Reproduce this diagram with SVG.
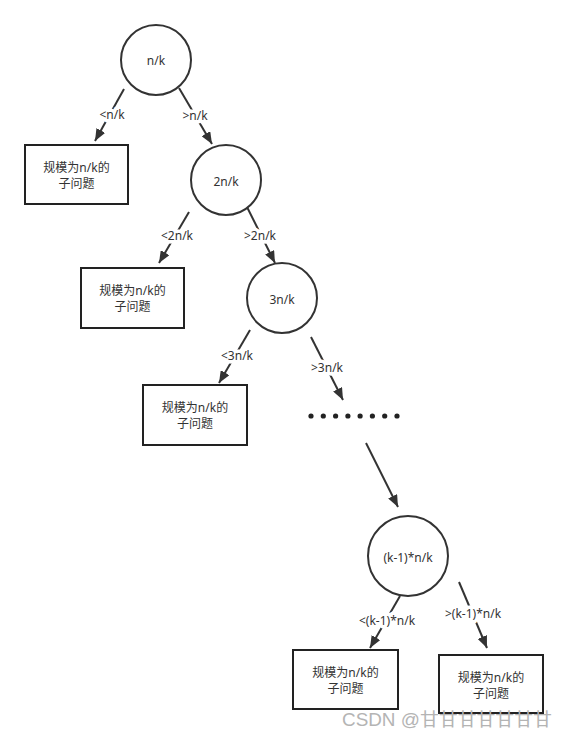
<svg xmlns="http://www.w3.org/2000/svg" width="568" height="739" viewBox="0 0 568 739">
<defs>
<marker id="ah" markerUnits="userSpaceOnUse" viewBox="0 0 12 10" refX="12" refY="5" markerWidth="12" markerHeight="10" orient="auto">
<path d="M0,0 L12,5 L0,10 z" fill="#333"/>
</marker>
<style>
.c{fill:#fff;stroke:#333;stroke-width:2}
.b{fill:#fff;stroke:#222;stroke-width:2}
.t{font-family:"Noto Sans","Noto Sans CJK SC",sans-serif;font-size:12px;fill:#333;text-anchor:middle;dominant-baseline:central}
.e{stroke:#333;stroke-width:2;fill:none;marker-end:url(#ah)}
.l{font-family:"Noto Sans","Noto Sans CJK SC",sans-serif;font-size:12px;fill:#333;text-anchor:middle;dominant-baseline:central;stroke:#fff;stroke-width:7px;paint-order:stroke;stroke-linejoin:round}
</style>
</defs>
<rect width="568" height="739" fill="#fff"/>
<g id="connectors">
<line class="e" x1="124" y1="89" x2="95" y2="141"/>
<line class="e" x1="179" y1="88" x2="212" y2="144"/>
<line class="e" x1="189" y1="212" x2="159" y2="263"/>
<line class="e" x1="247" y1="207" x2="275" y2="263"/>
<line class="e" x1="250" y1="330" x2="219" y2="383"/>
<line class="e" x1="311" y1="337" x2="343" y2="400"/>
<line class="e" x1="366" y1="443" x2="398" y2="507"/>
<line class="e" x1="400" y1="596" x2="370" y2="648"/>
<line class="e" x1="459" y1="582" x2="487" y2="648"/>
<text class="l" x="112" y="114">&lt;n/k</text>
<text class="l" x="195" y="115">&gt;n/k</text>
<text class="l" x="177" y="235">&lt;2n/k</text>
<text class="l" x="260" y="235">&gt;2n/k</text>
<text class="l" x="237" y="355">&lt;3n/k</text>
<text class="l" x="327" y="367">&gt;3n/k</text>
<text class="l" x="387" y="620">&lt;(k-1)*n/k</text>
<text class="l" x="473" y="613">&gt;(k-1)*n/k</text>
</g>
<g id="n1"><circle class="c" cx="156" cy="60" r="35"/><text class="t" x="156" y="60">n/k</text></g>
<g id="b1"><rect class="b" x="25" y="145" width="103" height="59"/><text class="t" x="76.5" y="167">规模为n/k的</text><text class="t" x="76.5" y="183">子问题</text></g>
<g id="n2"><circle class="c" cx="226" cy="180" r="35"/><text class="t" x="226" y="181">2n/k</text></g>
<g id="b2"><rect class="b" x="81" y="268" width="103" height="60"/><text class="t" x="132.5" y="290">规模为n/k的</text><text class="t" x="132.5" y="306">子问题</text></g>
<g id="n3"><circle class="c" cx="282" cy="298" r="35"/><text class="t" x="282" y="299">3n/k</text></g>
<g id="b3"><rect class="b" x="143" y="385" width="104" height="60"/><text class="t" x="195" y="407">规模为n/k的</text><text class="t" x="195" y="423">子问题</text></g>
<g id="dots" fill="#222">
<circle cx="311" cy="416" r="2.6"/><circle cx="323.3" cy="416" r="2.6"/><circle cx="335.6" cy="416" r="2.6"/><circle cx="347.9" cy="416" r="2.6"/><circle cx="360.1" cy="416" r="2.6"/><circle cx="372.4" cy="416" r="2.6"/><circle cx="384.7" cy="416" r="2.6"/><circle cx="397" cy="416" r="2.6"/>
</g>
<g id="nk"><circle class="c" cx="408" cy="556" r="40"/><text class="t" x="408" y="557">(k-1)*n/k</text></g>
<g id="b4"><rect class="b" x="293" y="650" width="105" height="59"/><text class="t" x="345.5" y="672">规模为n/k的</text><text class="t" x="345.5" y="688">子问题</text></g>
<g id="b5"><rect class="b" x="439" y="655" width="104" height="58"/><text class="t" x="491" y="677">规模为n/k的</text><text class="t" x="491" y="693">子问题</text></g>
<text x="342" y="726" font-family="'Liberation Sans','Noto Sans CJK SC',sans-serif" font-size="18" fill="#b4b4b4" textLength="210" lengthAdjust="spacingAndGlyphs">CSDN @甘甘甘甘甘甘甘</text>
</svg>
